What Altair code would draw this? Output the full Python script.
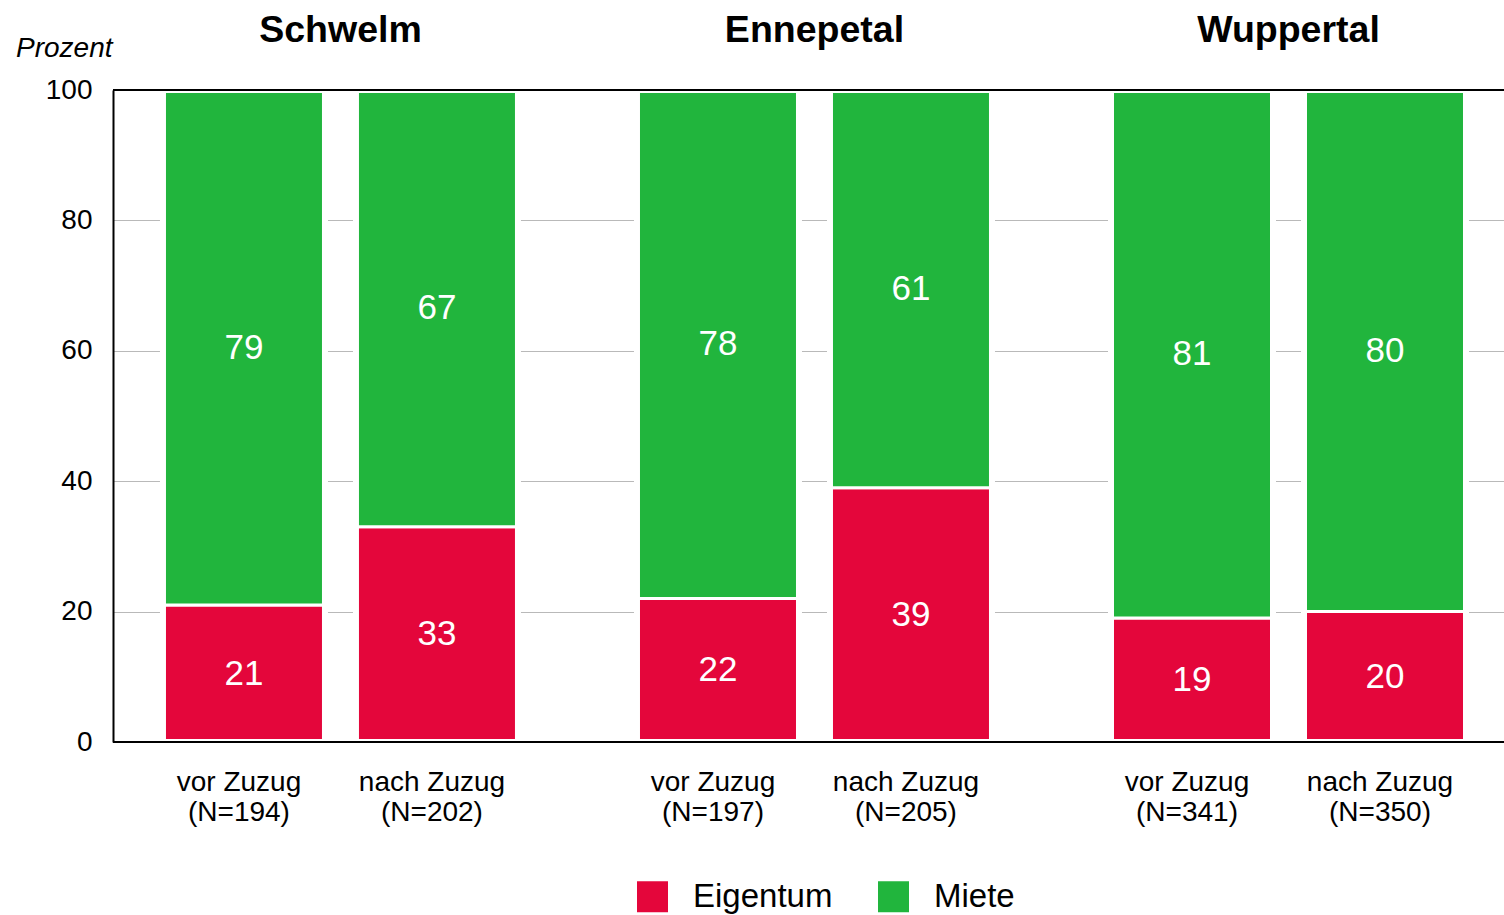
import altair as alt
import pandas as pd

# Wohnform vor und nach dem Zuzug, Anteile in Prozent
cities = ["Schwelm", "Ennepetal", "Wuppertal"]
periods = ["vor Zuzug", "nach Zuzug"]
sample_sizes = [194, 202, 197, 205, 341, 350]
eigentum = [21, 33, 22, 39, 19, 20]
miete = [79, 67, 78, 61, 81, 80]
types = ["Eigentum", "Miete"]
colors = ["#E4063B", "#21B53D"]
y_ticks = [0, 20, 40, 60, 80, 100]

rows = []
bars = []
for i, city in enumerate(cities):
    for j, period in enumerate(periods):
        k = i * 2 + j
        bars.append({"city": city, "period": period,
                     "label": f"{period}\n(N={sample_sizes[k]})"})
        for t, vals in zip(types, [eigentum, miete]):
            rows.append({"city": city, "period": period, "type": t, "value": vals[k]})

df = pd.DataFrame(rows)
bar_df = pd.DataFrame(bars)
edges = pd.DataFrame({"edge": [y_ticks[0], y_ticks[-1]]})

x_enc = alt.X(
    "city:N", sort=cities,
    scale=alt.Scale(paddingInner=0.2511, paddingOuter=0.0928, align=0.568),
    axis=alt.Axis(orient="top", title=None, domain=False, ticks=False, tickSize=0,
                  labelPadding=49, labelBaseline="alphabetic", labelFontSize=37.5,
                  labelFontWeight="bold", labelColor="#000", labelAngle=0,
                  labelLimit=500),
)
x_off = alt.XOffset("period:N", sort=periods,
                    scale=alt.Scale(paddingInner=0.1606, paddingOuter=0))
y_scale = alt.Scale(domain=[0, 100], nice=False)
y_axis = alt.Axis(
    values=y_ticks, title="Prozent", titleAngle=0, titleAlign="right",
    titleBaseline="alphabetic", titleX=-1, titleY=-34, titleFontSize=28,
    titleFontStyle="italic", titleFontWeight="normal", titleColor="#000",
    labelFontSize=28, labelColor="#000", labelPadding=21, ticks=False, tickSize=0,
    domainColor="#000", domainWidth=2, gridColor="#b9b9b9", gridWidth=1.2,
)

base = alt.Chart(df).transform_stack(
    stack="value", as_=["y0", "y1"], groupby=["city", "period"],
    sort=[alt.SortField("type", order="ascending")],
)

segments = base.mark_bar(stroke="white", strokeWidth=3).encode(
    x=x_enc, xOffset=x_off,
    y=alt.Y("y0:Q", scale=y_scale, axis=y_axis),
    y2="y1:Q",
    color=alt.Color(
        "type:N", scale=alt.Scale(domain=types, range=colors),
        legend=alt.Legend(title=None, orient="none", legendX=523, legendY=790,
                          direction="horizontal", symbolType="square", symbolSize=961,
                          symbolStrokeWidth=0, labelFontSize=33, labelOffset=24,
                          columnPadding=44, padding=0, labelColor="#000"),
    ),
)

# white frame around each whole column
halo = base.mark_bar(fill="white", fillOpacity=0, stroke="white", strokeWidth=6).encode(
    x=x_enc, xOffset=x_off,
    y=alt.Y("min(y0):Q", scale=y_scale, axis=y_axis),
    y2="max(y1)",
)

values = base.transform_calculate(mid="(datum.y0 + datum.y1) / 2").mark_text(
    color="white", fontSize=35, baseline="middle", align="center"
).encode(
    x=x_enc, xOffset=x_off,
    y=alt.Y("mid:Q", scale=y_scale, axis=y_axis),
    text=alt.Text("value:Q", format="d"),
)

frame = alt.Chart(edges).mark_rule(color="#000", strokeWidth=2).encode(
    y=alt.Y("edge:Q", scale=y_scale, axis=y_axis)
)

bar_labels = alt.Chart(bar_df).mark_text(
    lineBreak="\n", fontSize=28, baseline="alphabetic", align="center",
    dy=49, dx=-5, lineHeight=30, color="#000"
).encode(
    x=x_enc, xOffset=x_off,
    y=alt.Y(datum=0, scale=y_scale, axis=y_axis),
    text="label:N",
)

chart = alt.layer(segments, halo, values, frame, bar_labels).properties(
    width=1391, height=652,
    autosize=alt.AutoSizeParams(type="none"),
    padding={"left": 113, "top": 90, "right": 0, "bottom": 173},
).configure(font="Liberation Sans").configure_view(stroke="transparent")

chart.save("out.html", embed_options={"renderer": "svg", "actions": False})
